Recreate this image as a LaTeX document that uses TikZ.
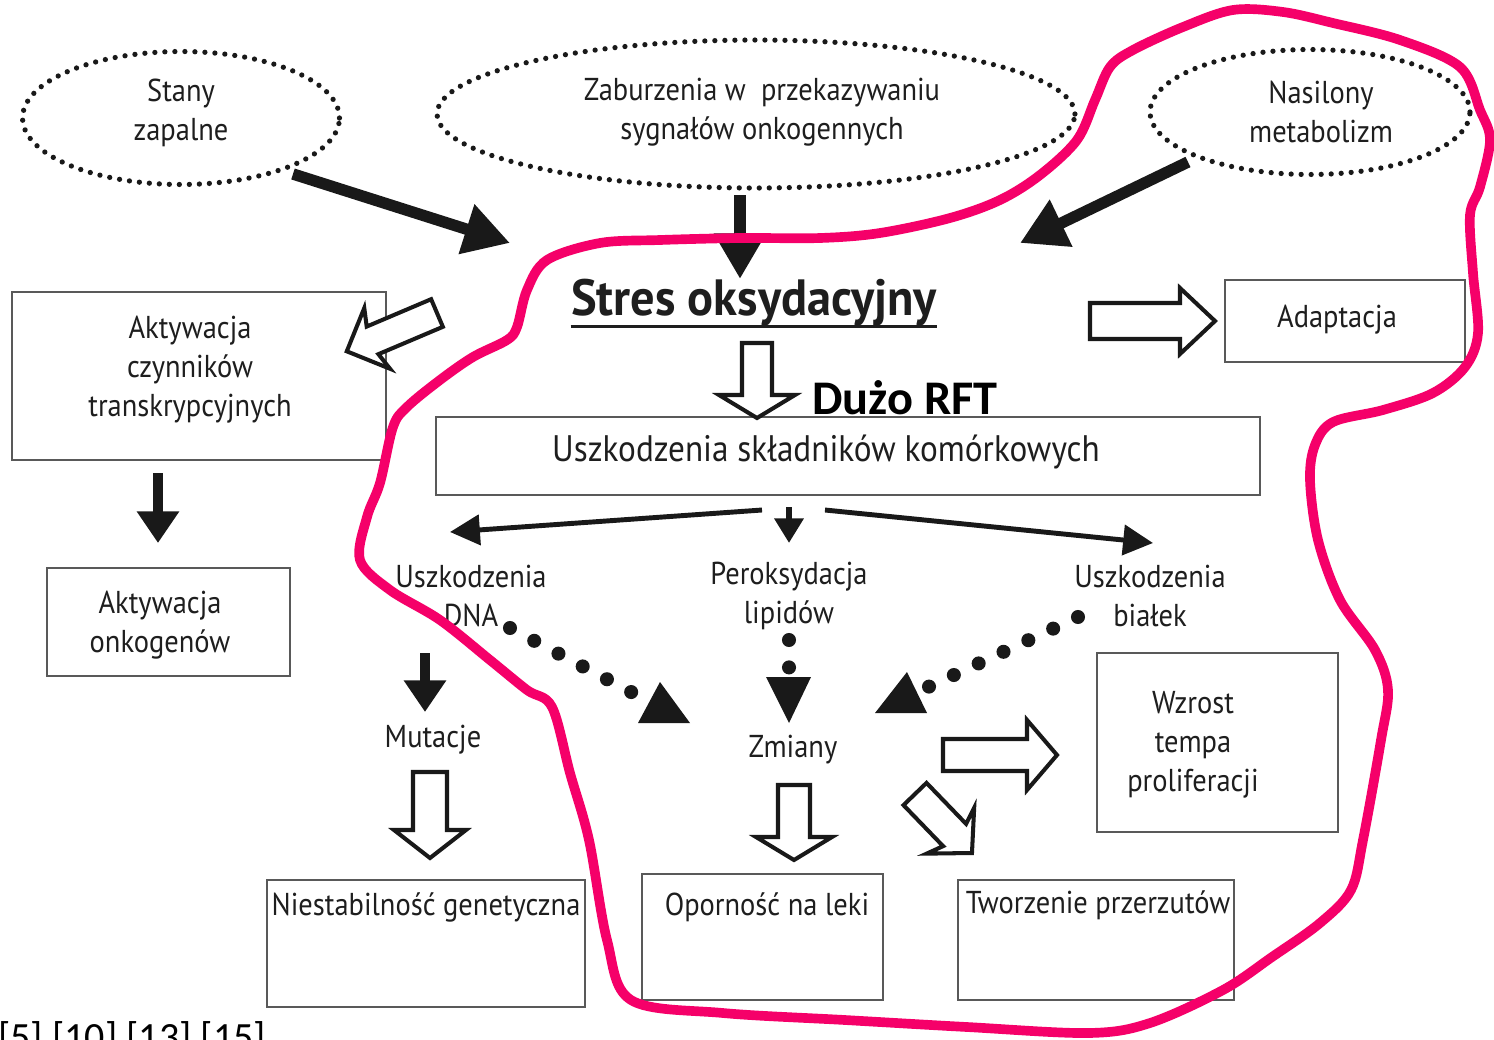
\documentclass[tikz,border=0pt]{standalone}
\usepackage{fontspec}
\setmainfont{PT Sans}
\newfontfamily\lab[FakeStretch=0.9]{PT Sans}
\newfontfamily\stresfont[FakeStretch=0.95]{PT Sans}
\newfontfamily\calib{Carlito}
\usetikzlibrary{arrows.meta,shapes.geometric}
\definecolor{pinkline}{RGB}{245,0,105}
\definecolor{txt}{RGB}{30,30,30}
\newcommand\harrow[8][0]{%
  \draw[hol, shift={(#2,#3)}, rotate=#4] (0,-#6) -- ({#5-#8},-#6) -- ({#5-#8-#1},-#7) -- (#5,0) -- ({#5-#8-#1},#7) -- ({#5-#8},#6) -- (0,#6) -- cycle;}
\tikzset{
  lbl/.style={font=\lab\fontsize{18}{22.2}\selectfont, text=txt, align=center, inner sep=0pt},
  ell/.style={ellipse, draw=black!90, line width=3pt, dash pattern=on 0pt off 5.7pt, line cap=round, inner sep=0pt},
  box/.style={draw=black!65, line width=1pt, inner sep=0pt},
  hol/.style={draw=black!90, line width=2.3pt, fill=white, line join=miter},
  bigarr/.style={line width=6.5pt, black!90, -{Triangle[length=26pt,width=28pt]}},
  midarr/.style={line width=5.7pt, black!90, -{Triangle[length=18pt,width=23pt]}},
  thinarr/.style={line width=2.8pt, black!90, -{Triangle[length=17pt,width=17pt]}},
  smallarr/.style={line width=3.5pt, black!90, -{Triangle[length=14pt,width=16pt]}},
  dots/.style={line width=8pt, black!90, line cap=round, dash pattern=on 0pt off 15.6pt},
}
\begin{document}
\begin{tikzpicture}[x=0.02cm, y=-0.02cm]
\useasboundingbox (0,0) rectangle (1494,1039);
\fill[white] (0,0) rectangle (1494,1039);

% ellipses
\node[ell, minimum width=6.34cm, minimum height=2.66cm] (e1) at (181,118) {};
\node[lbl] (te1) at (181,113) {Stany\\zapalne};
\node[ell, minimum width=12.76cm, minimum height=2.96cm] (e2) at (756,114) {};
\node[lbl] (te2) at (762,112) {Zaburzenia w\ \ przekazywaniu\\sygnałów onkogennych};
\node[ell, minimum width=6.4cm, minimum height=2.5cm] (e3) at (1310,112) {};
\node[lbl] (te3) at (1321,112) {Nasilony\\metabolizm};

% boxes
\node[box, minimum width=7.48cm, minimum height=3.36cm] (b1) at (199,376) {};
\node[lbl] (t1) at (190,370) {Aktywacja\\czynników\\transkrypcyjnych};
\node[box, minimum width=4.86cm, minimum height=2.16cm] (b2) at (168.5,622) {};
\node[lbl] (t2) at (160,625) {Aktywacja\\onkogenów};
\node[box, minimum width=4.8cm, minimum height=1.64cm] (b3) at (1345,321) {};
\node[lbl] (t3) at (1337,320) {Adaptacja};
\node[box, minimum width=16.48cm, minimum height=1.56cm] (b4) at (848,456) {};
\node[lbl, font=\lab\fontsize{21}{24}\selectfont] (t4) at (826,452) {Uszkodzenia składników komórkowych};
\node[box, minimum width=4.82cm, minimum height=3.58cm] (b5) at (1217.5,742.5) {};
\node[lbl] (t5) at (1193,745) {Wzrost\\tempa\\proliferacji};
\node[box, minimum width=6.36cm, minimum height=2.54cm] (b6) at (426,943.5) {};
\node[lbl] (t6) at (426,907) {Niestabilność genetyczna};
\node[box, minimum width=4.82cm, minimum height=2.52cm] (b7) at (762.5,937) {};
\node[lbl] (t7) at (767,907) {Oporność na leki};
\node[box, minimum width=5.52cm, minimum height=2.4cm] (b8) at (1096,940) {};
\node[lbl] (t8) at (1098,905) {Tworzenie przerzutów};

% central texts
\node[font=\stresfont\bfseries\fontsize{29}{32}\selectfont, text=txt, inner sep=0pt] (stres) at (754,303) {Stres oksydacyjny};
\draw[line width=1.8pt, txt] (stres.south west) -- (stres.south east);
\node[font=\calib\bfseries\fontsize{27.5}{30}\selectfont, inner sep=0pt] (rft) at (905,398) {Dużo RFT};
\node[lbl] (dna) at (471,596) {Uszkodzenia\\DNA};
\node[lbl] (lip) at (789,596) {Peroksydacja\\lipidów};
\node[lbl] (bia) at (1150,596) {Uszkodzenia\\białek};
\node[lbl] (mut) at (433,740) {Mutacje};
\node[lbl] (zm) at (793,750) {Zmiany};
\node[font=\calib\fontsize{22.8}{26}\selectfont, anchor=base west, inner sep=0pt] (refs) at (-2,1050) {[5] [10] [13] [15]};

% solid arrows
\coordinate (a1s) at (293,174); \coordinate (a1e) at (510,243);
\coordinate (a2s) at (740,195); \coordinate (a2e) at (740,279);
\coordinate (a3s) at (1188,162); \coordinate (a3e) at (1020,243);
\draw[bigarr] (a1s) -- (a1e);
\draw[bigarr] (a2s) -- (a2e);
\draw[bigarr] (a3s) -- (a3e);
\coordinate (a4s) at (158,473); \coordinate (a4e) at (158,543);
\coordinate (a5s) at (425,653); \coordinate (a5e) at (425,712);
\draw[midarr] (a4s) -- (a4e);
\draw[midarr] (a5s) -- (a5e);
\coordinate (a6s) at (762,510); \coordinate (a6e) at (450,532);
\coordinate (a7s) at (825,510); \coordinate (a7e) at (1153,543);
\coordinate (a8s) at (789,507); \coordinate (a8e) at (789,543);
\draw[thinarr] (a6s) -- (a6e);
\draw[thinarr] (a7s) -- (a7e);
\draw[smallarr] (a8s) -- (a8e);

% dotted arrows
\coordinate (d1s) at (510,628); \coordinate (d1e) at (633,693);
\coordinate (d2s) at (1078,617); \coordinate (d2e) at (926,688);
\coordinate (d3s) at (789,640); \coordinate (d3e) at (789,669);
\draw[dots] (d1s) -- (d1e);
\draw[dots] (d2s) -- (d2e);
\draw[dots] (d3s) -- (d3e);
\fill[black!90] (638,723) -- (660,682) -- (690,723) -- cycle;
\fill[black!90] (766,677) -- (811,677) -- (789,723) -- cycle;
\fill[black!90] (875,713) -- (907,672) -- (927,713) -- cycle;

% hollow arrows
\harrow[5]{437}{313}{203}{98}{15}{33}{28}
\harrow{1090}{321}{0}{125}{18}{33}{35}
\harrow{757}{343}{-90}{75}{15}{38}{23}
\harrow{943}{755}{0}{114}{16}{35}{30}
\harrow[6]{915}{794}{-46}{82}{16}{33}{25}
\harrow{430}{772}{-90}{86}{17}{36}{28}
\harrow{794}{785}{-90}{75}{16}{38}{23}

% pink outline
\draw[pinkline, line width=5.5pt, line join=round] plot[smooth cycle, tension=0.55] coordinates {
(1233,10) (1283,12) (1333,23) (1400,40) (1460,67) (1480,110) (1490,140) (1480,187)
(1470,215) (1473,273) (1478,333) (1465,367) (1433,393) (1383,410) (1333,422) (1315,445)
(1310,480) (1318,540) (1340,600) (1375,650) (1388,690) (1381,740) (1363,840) (1351,890)
(1320,923) (1272,957) (1223,990) (1150,1023) (1089,1033) (967,1027) (845,1020) (723,1013)
(631,1000) (607,940) (589,840) (570,773) (552,707) (527,690) (490,660) (440,620) (390,590)
(360,560) (367,517) (380,483) (393,427) (407,407) (440,380) (473,357) (507,340) (517,327)
(527,290) (547,260) (600,243) (660,240) (740,238) (820,238) (880,233) (950,218) (1000,200)
(1040,175) (1077,140) (1095,100) (1110,67) (1133,50) (1183,27)};
\end{tikzpicture}
\end{document}
